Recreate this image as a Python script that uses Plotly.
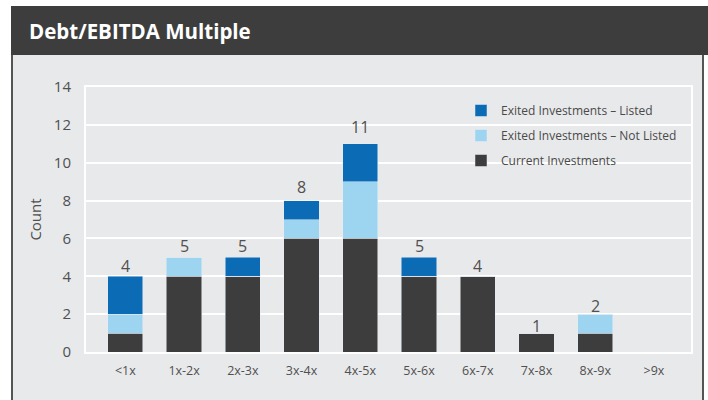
import plotly.graph_objects as go

categories = ["<1x", "1x-2x", "2x-3x", "3x-4x", "4x-5x", "5x-6x", "6x-7x", "7x-8x", "8x-9x", ">9x"]
current = [1, 4, 4, 6, 6, 4, 4, 1, 1, 0]
exited_not_listed = [1, 1, 0, 1, 3, 0, 0, 0, 1, 0]
exited_listed = [2, 0, 1, 1, 2, 1, 0, 0, 0, 0]
y_ticks = [0, 2, 4, 6, 8, 10, 12, 14]

C_CUR = "#3d3d3d"
C_NL = "#9dd4f0"
C_L = "#0b6bb5"
BG = "#e8e9eb"
TXT = "#505050"
FONT = "Open Sans"

W, H = 708, 400
L, R, T, B = 86, 17, 87, 48
PW, PH = W - L - R, H - T - B

def px(x):
    return (x - L) / PW

def py(y):
    return (H - B - y) / PH

totals = [a + b + c for a, b, c in zip(current, exited_not_listed, exited_listed)]

fig = go.Figure()
fig.add_bar(x=categories, y=current, name="Current Investments", marker_color=C_CUR,
            legendgroup="c", legendrank=3, width=0.6)
fig.add_bar(x=categories, y=exited_not_listed, name="Exited Investments \u2013 Not Listed",
            marker_color=C_NL, legendgroup="n", legendrank=2, width=0.6)
fig.add_bar(x=categories, y=exited_listed, name="Exited Investments \u2013 Listed",
            marker_color=C_L, legendgroup="l", legendrank=1, width=0.6)

for cat, t in zip(categories, totals):
    if t > 0:
        fig.add_annotation(x=cat, y=t, text=str(t), showarrow=False, yanchor="bottom",
                           yshift=-3 + (t - 4) * 1.0, font=dict(family=FONT, size=16, color=TXT))

shapes = [
    # panel
    dict(type="rect", xref="paper", yref="paper", x0=px(11), x1=px(704), y0=py(400), y1=py(6),
         fillcolor=BG, line=dict(width=0), layer="below"),
    dict(type="line", xref="paper", yref="paper", x0=px(12), x1=px(12), y0=py(400), y1=py(6),
         line=dict(color="#555555", width=2), layer="below"),
    dict(type="line", xref="paper", yref="paper", x0=px(703), x1=px(703), y0=py(400), y1=py(6),
         line=dict(color="#555555", width=2), layer="below"),
    # header
    dict(type="rect", xref="paper", yref="paper", x0=px(11), x1=px(708), y0=py(55), y1=py(6),
         fillcolor="#3d3d3d", line=dict(width=0), layer="below"),
    # light blue line at 12
    dict(type="line", xref="paper", yref="y", x0=0, x1=1, y0=12, y1=12,
         line=dict(color="#c3d6e6", width=1.2), layer="between"),
]

fig.add_annotation(xref="paper", yref="paper", x=px(27), y=py(31), xanchor="left", yanchor="middle",
                   text="<b>Debt/EBITDA Multiple</b>", showarrow=False,
                   font=dict(family=FONT, size=20.5, color="white"))

fig.update_layout(
    width=W, height=H,
    margin=dict(l=L, r=R, t=T, b=B, pad=0),
    paper_bgcolor="white", plot_bgcolor=BG,
    barmode="stack", bargap=0.4,
    shapes=shapes,
    font=dict(family=FONT, color=TXT),
    showlegend=True,
    legend=dict(x=px(461), y=py(96), xanchor="left", yanchor="top",
                traceorder="grouped", tracegroupgap=6, bgcolor="rgba(0,0,0,0)",
                font=dict(family=FONT, size=12, color="#4a4a4a"), itemwidth=30),
)
fig.update_xaxes(range=[-0.67, 9.63], showgrid=False, showline=True, linecolor="white",
                 linewidth=2, mirror=True, ticks="", tickfont=dict(size=12.5, color=TXT),
                 ticklabelstandoff=6, fixedrange=True)
fig.update_yaxes(range=[0, 14], tickvals=y_ticks, showgrid=True, gridcolor="white", gridwidth=1.5,
                 showline=True, linecolor="white", linewidth=2, mirror=True, zeroline=False,
                 tickfont=dict(size=15, color=TXT), ticklabelstandoff=10,
                 title=dict(text="Count", font=dict(size=15, color=TXT), standoff=9))

fig.write_html("out.html")
